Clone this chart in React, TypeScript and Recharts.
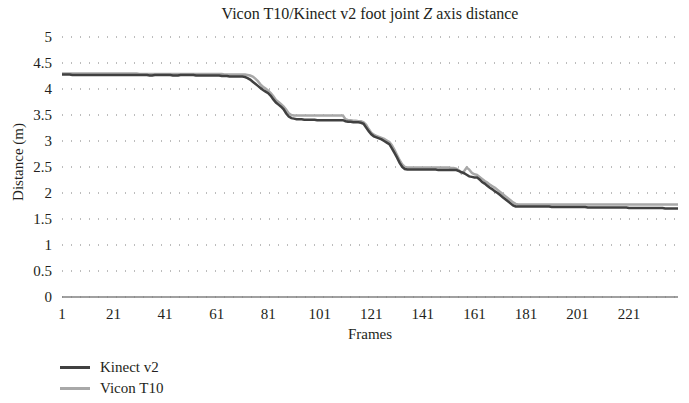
import { LineChart, Line, XAxis, YAxis, CartesianGrid, Label } from 'recharts';

const frames = Array.from({ length: 240 }, (_, i) => i + 1);
const frameTicks = [1, 21, 41, 61, 81, 101, 121, 141, 161, 181, 201, 221];
const distanceTicks = [0, 0.5, 1, 1.5, 2, 2.5, 3, 3.5, 4, 4.5, 5];

// Kinect v2, frames 1..240
const kinect = [
  4.28, 4.28, 4.28, 4.28, 4.27, 4.27, 4.27, 4.27, 4.27, 4.27,
  4.27, 4.27, 4.27, 4.27, 4.27, 4.27, 4.27, 4.27, 4.27, 4.27,
  4.27, 4.27, 4.27, 4.27, 4.27, 4.27, 4.27, 4.27, 4.27, 4.27,
  4.27, 4.27, 4.27, 4.27, 4.26, 4.26, 4.27, 4.27, 4.27, 4.27,
  4.27, 4.27, 4.27, 4.26, 4.26, 4.26, 4.27, 4.27, 4.27, 4.27,
  4.27, 4.27, 4.26, 4.26, 4.26, 4.26, 4.26, 4.26, 4.26, 4.26,
  4.26, 4.26, 4.25, 4.25, 4.25, 4.24, 4.24, 4.24, 4.24, 4.24,
  4.24, 4.23, 4.21, 4.18, 4.14, 4.1, 4.06, 4.02, 3.98, 3.95,
  3.92, 3.87, 3.8, 3.74, 3.7, 3.66, 3.61, 3.53, 3.47, 3.44,
  3.43, 3.42, 3.42, 3.42, 3.41, 3.41, 3.41, 3.41, 3.41, 3.4,
  3.4, 3.4, 3.4, 3.4, 3.4, 3.4, 3.4, 3.4, 3.4, 3.4,
  3.38, 3.37, 3.37, 3.36, 3.36, 3.36, 3.35, 3.33, 3.26, 3.19,
  3.13, 3.09, 3.07, 3.05, 3.03, 3.0, 2.97, 2.94, 2.86, 2.77,
  2.68, 2.58, 2.5, 2.46, 2.45, 2.45, 2.45, 2.45, 2.45, 2.45,
  2.45, 2.45, 2.45, 2.45, 2.45, 2.45, 2.44, 2.44, 2.44, 2.44,
  2.44, 2.44, 2.44, 2.44, 2.42, 2.4, 2.38, 2.35, 2.32, 2.31,
  2.3, 2.3, 2.26, 2.21, 2.18, 2.14, 2.1, 2.07, 2.03, 2.0,
  1.96, 1.92, 1.88, 1.84, 1.8, 1.76, 1.74, 1.74, 1.74, 1.74,
  1.74, 1.74, 1.74, 1.74, 1.74, 1.74, 1.74, 1.74, 1.74, 1.74,
  1.73, 1.73, 1.73, 1.73, 1.73, 1.73, 1.73, 1.73, 1.73, 1.73,
  1.73, 1.73, 1.73, 1.73, 1.72, 1.72, 1.72, 1.72, 1.72, 1.72,
  1.72, 1.72, 1.72, 1.72, 1.72, 1.72, 1.72, 1.72, 1.72, 1.72,
  1.71, 1.71, 1.71, 1.71, 1.71, 1.71, 1.71, 1.71, 1.71, 1.71,
  1.71, 1.71, 1.71, 1.71, 1.7, 1.7, 1.7, 1.7, 1.7, 1.7,
];

// Vicon T10, frames 1..240
const vicon = [
  4.3, 4.3, 4.3, 4.3, 4.3, 4.3, 4.3, 4.3, 4.3, 4.3,
  4.3, 4.3, 4.3, 4.3, 4.3, 4.3, 4.3, 4.3, 4.3, 4.3,
  4.3, 4.3, 4.3, 4.3, 4.3, 4.3, 4.3, 4.3, 4.3, 4.3,
  4.29, 4.29, 4.29, 4.29, 4.29, 4.29, 4.29, 4.29, 4.29, 4.29,
  4.29, 4.29, 4.29, 4.29, 4.29, 4.29, 4.29, 4.29, 4.29, 4.29,
  4.29, 4.29, 4.29, 4.29, 4.29, 4.29, 4.29, 4.29, 4.29, 4.29,
  4.29, 4.29, 4.29, 4.28, 4.28, 4.28, 4.28, 4.28, 4.28, 4.28,
  4.28, 4.28, 4.27, 4.26, 4.24, 4.2, 4.15, 4.09, 4.04, 4.01,
  3.97, 3.92, 3.86, 3.79, 3.75, 3.71, 3.66, 3.6, 3.53, 3.5,
  3.49, 3.49, 3.49, 3.49, 3.49, 3.49, 3.49, 3.49, 3.49, 3.49,
  3.49, 3.49, 3.49, 3.49, 3.49, 3.49, 3.49, 3.49, 3.49, 3.49,
  3.42, 3.4, 3.4, 3.39, 3.39, 3.38, 3.38, 3.36, 3.31, 3.23,
  3.16, 3.12, 3.1, 3.08, 3.06, 3.04, 3.01, 2.98, 2.92, 2.83,
  2.73, 2.63, 2.55, 2.5, 2.49, 2.49, 2.49, 2.49, 2.49, 2.49,
  2.49, 2.49, 2.49, 2.49, 2.49, 2.49, 2.49, 2.49, 2.49, 2.49,
  2.49, 2.48, 2.48, 2.47, 2.44, 2.38, 2.42, 2.49, 2.45, 2.39,
  2.36, 2.35, 2.31, 2.27, 2.23, 2.2, 2.16, 2.13, 2.1, 2.06,
  2.02, 1.98, 1.94, 1.9, 1.86, 1.82, 1.79, 1.78, 1.78, 1.78,
  1.78, 1.78, 1.78, 1.78, 1.78, 1.78, 1.78, 1.78, 1.78, 1.78,
  1.78, 1.78, 1.78, 1.78, 1.78, 1.78, 1.78, 1.78, 1.78, 1.78,
  1.78, 1.78, 1.78, 1.78, 1.78, 1.78, 1.78, 1.78, 1.78, 1.78,
  1.78, 1.78, 1.78, 1.78, 1.78, 1.78, 1.78, 1.78, 1.78, 1.78,
  1.78, 1.78, 1.78, 1.78, 1.78, 1.78, 1.78, 1.78, 1.78, 1.78,
  1.78, 1.78, 1.78, 1.78, 1.78, 1.78, 1.78, 1.78, 1.78, 1.78,
];

const data = frames.map((f, i) => ({ frame: f, kinect: kinect[i], vicon: vicon[i] }));

const FONT = 'Liberation Serif, Tinos, Times New Roman, DejaVu Serif, serif';
const TEXT = '#231f20';
const KINECT_COLOR = '#404040';
const VICON_COLOR = '#a8a8a8';

export default function App() {
  return (
    <div style={{ position: 'absolute', left: 0, top: 0, width: 689, height: 403, background: '#fff', fontFamily: FONT }}>
      <div
        style={{
          position: 'absolute', left: 62, width: 616, top: 4, textAlign: 'center',
          fontSize: 16, color: TEXT, lineHeight: '20px',
        }}
      >
        Vicon T10/Kinect v2 foot joint <i>Z</i> axis distance
      </div>
      <LineChart
        width={689}
        height={403}
        data={data}
        margin={{ top: 37, right: 11, bottom: 76, left: 0 }}
      >
        <CartesianGrid vertical={false} stroke="#7a7a7a" strokeDasharray="1 8" />
        <XAxis
          dataKey="frame"
          ticks={frameTicks}
          interval={0}
          height={30}
          tickLine={false}
          tickMargin={5}
          stroke="#808080"
          strokeWidth={1.5}
          tick={{ fill: TEXT, fontSize: 15, fontFamily: FONT }}
        >
          <Label value="Frames" position="insideBottom" offset={-12} fill={TEXT} fontSize={15} fontFamily={FONT} />
        </XAxis>
        <YAxis
          domain={[0, 5]}
          ticks={distanceTicks}
          width={62}
          axisLine={false}
          tickLine={false}
          tickMargin={4}
          tick={{ fill: TEXT, fontSize: 15, fontFamily: FONT }}
        >
          <Label
            content={() => (
              <text
                x={18}
                y={162}
                transform="rotate(-90 18 162)"
                textAnchor="middle"
                dominantBaseline="central"
                fill={TEXT}
                fontSize={15}
                fontFamily={FONT}
              >
                Distance (m)
              </text>
            )}
          />
        </YAxis>
        <Line type="linear" dataKey="vicon" name="Vicon T10" stroke={VICON_COLOR} strokeWidth={2.5} dot={false} isAnimationActive={false} />
        <Line type="linear" dataKey="kinect" name="Kinect v2" stroke={KINECT_COLOR} strokeWidth={2.5} dot={false} isAnimationActive={false} />
      </LineChart>
      <div style={{ position: 'absolute', left: 60, top: 357, fontSize: 15, color: TEXT }}>
        {[
          { name: 'Kinect v2', color: KINECT_COLOR },
          { name: 'Vicon T10', color: VICON_COLOR },
        ].map((item) => (
          <div key={item.name} style={{ display: 'flex', alignItems: 'center', height: 21 }}>
            <span style={{ display: 'inline-block', width: 30, height: 2.5, background: item.color, marginRight: 10 }} />
            <span>{item.name}</span>
          </div>
        ))}
      </div>
    </div>
  );
}
